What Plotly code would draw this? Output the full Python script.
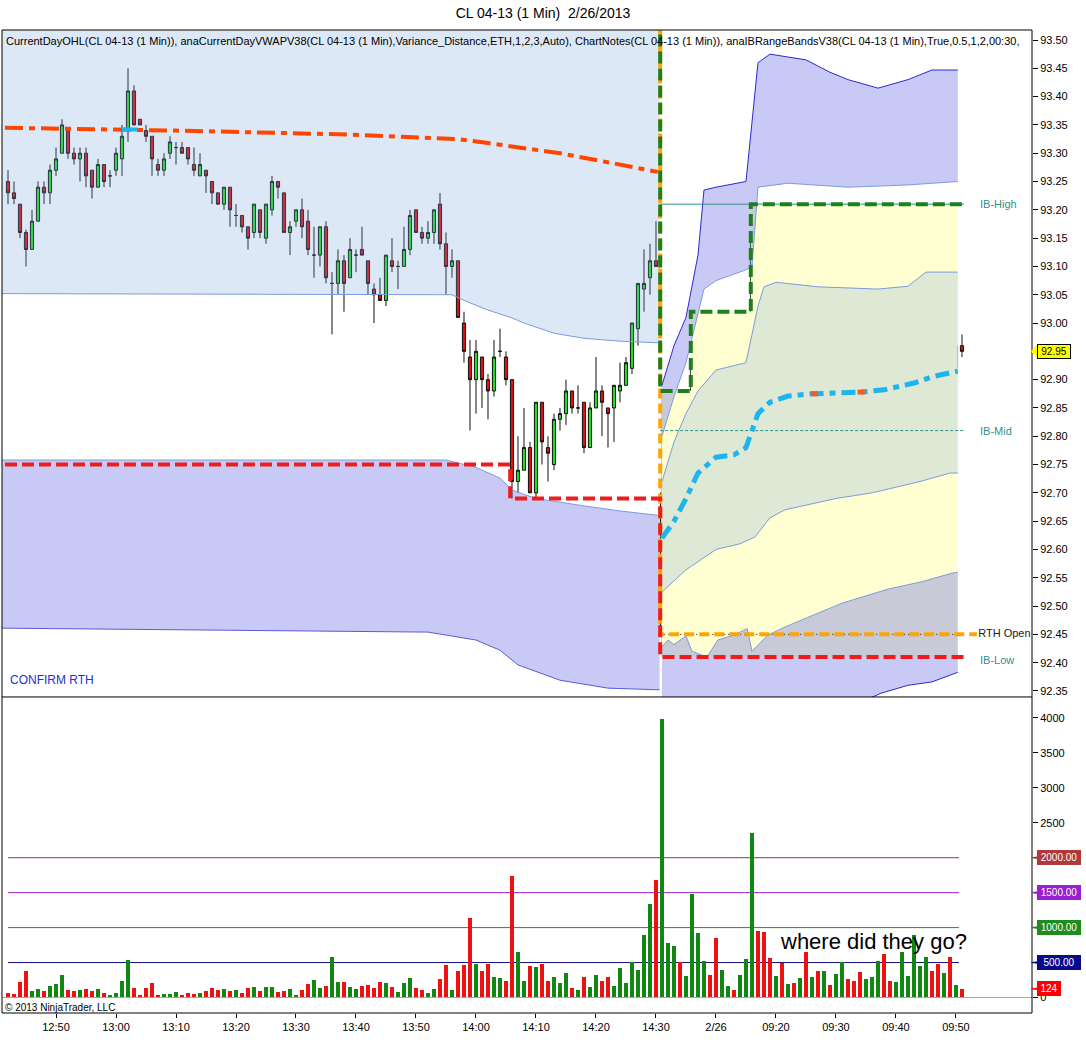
import plotly.graph_objects as go

# Bougies 1 min : 12:42 -> 14:30 (25/02) puis RTH 09:01 -> 09:51 (26/02)
opens = [
    93.25, 93.23, 93.21, 93.16, 93.13, 93.18, 93.24, 93.23, 93.27, 93.30,
    93.34, 93.30, 93.29, 93.30, 93.27, 93.24, 93.28, 93.26, 93.27, 93.29,
    93.34, 93.41, 93.36, 93.34, 93.33, 93.28, 93.27, 93.30, 93.31, 93.31,
    93.31, 93.28, 93.26, 93.27, 93.25, 93.23, 93.21, 93.24, 93.19, 93.19,
    93.17, 93.16, 93.20, 93.15, 93.20, 93.25, 93.23, 93.16, 93.18, 93.20,
    93.18, 93.12, 93.12, 93.17, 93.07, 93.07, 93.11, 93.08, 93.12, 93.13,
    93.11, 93.06, 93.05, 93.04, 93.11, 93.10, 93.10, 93.13, 93.20, 93.16,
    93.15, 93.16, 93.21, 93.14, 93.10, 93.11, 93.00, 92.94, 92.90, 92.94,
    92.90, 92.88, 92.95, 92.94, 92.90, 92.72, 92.74, 92.78, 92.70, 92.86,
    92.78, 92.75, 92.83, 92.84, 92.88, 92.85, 92.86, 92.78, 92.85, 92.88,
    92.85, 92.85, 92.88, 92.89, 92.92, 92.99, 93.06, 93.08, 93.11,
    92.45, 92.70, 92.72, 92.78, 92.74, 92.77, 92.92, 92.97, 93.01, 92.96,
    92.86, 92.91, 92.91, 92.88, 92.88, 92.92, 93.16, 93.11, 93.07, 93.03,
    93.04, 92.97, 93.00, 92.98, 92.99, 92.88, 92.88, 92.85, 92.90, 92.88,
    92.95, 92.97, 92.94, 92.92, 92.86, 92.87, 92.93, 93.02, 92.99, 92.94,
    92.96, 93.01, 93.01, 93.11, 93.13, 93.15, 93.07, 93.01, 93.01, 92.92,
    92.96,
]
highs = [
    93.27, 93.25, 93.21, 93.165, 93.20, 93.25, 93.25, 93.28, 93.31, 93.36,
    93.34, 93.31, 93.31, 93.31, 93.27, 93.29, 93.28, 93.27, 93.31, 93.35,
    93.45, 93.42, 93.36, 93.35, 93.33, 93.29, 93.30, 93.33, 93.32, 93.32,
    93.31, 93.31, 93.30, 93.27, 93.25, 93.23, 93.24, 93.24, 93.21, 93.19,
    93.17, 93.21, 93.20, 93.21, 93.26, 93.25, 93.23, 93.18, 93.20, 93.22,
    93.20, 93.17, 93.17, 93.18, 93.09, 93.13, 93.12, 93.15, 93.13, 93.17,
    93.11, 93.07, 93.08, 93.12, 93.15, 93.11, 93.17, 93.20, 93.20, 93.17,
    93.18, 93.20, 93.23, 93.16, 93.13, 93.11, 93.02, 92.97, 92.97, 92.94,
    92.91, 92.97, 92.99, 92.95, 92.90, 92.80, 92.85, 92.79, 92.86, 92.86,
    92.80, 92.84, 92.85, 92.90, 92.88, 92.89, 92.86, 92.86, 92.94, 92.89,
    92.85, 92.89, 92.93, 92.94, 93.00, 93.07, 93.13, 93.14, 93.18,
    92.88, 92.73, 92.82, 92.78, 92.79, 92.93, 93.01, 93.02, 93.01, 92.96,
    92.95, 92.93, 92.91, 92.91, 92.97, 93.21, 93.17, 93.13, 93.08, 93.05,
    93.08, 93.02, 93.02, 93.00, 92.99, 92.93, 92.88, 92.92, 92.92, 92.98,
    92.98, 92.98, 92.98, 92.92, 92.89, 92.93, 93.02, 93.04, 92.99, 92.97,
    93.06, 93.05, 93.12, 93.18, 93.20, 93.15, 93.09, 93.02, 93.02, 93.00,
    92.98,
]
lows = [
    93.21, 93.21, 93.15, 93.10, 93.13, 93.18, 93.21, 93.21, 93.26, 93.30,
    93.29, 93.28, 93.25, 93.24, 93.22, 93.24, 93.24, 93.24, 93.26, 93.26,
    93.32, 93.35, 93.35, 93.32, 93.26, 93.26, 93.26, 93.29, 93.28, 93.30,
    93.28, 93.26, 93.26, 93.23, 93.21, 93.21, 93.20, 93.17, 93.17, 93.16,
    93.13, 93.15, 93.15, 93.14, 93.19, 93.22, 93.16, 93.12, 93.17, 93.15,
    93.12, 93.08, 93.10, 93.07, 92.98, 93.05, 93.02, 93.08, 93.09, 93.12,
    93.05, 93.00, 93.04, 93.03, 93.09, 93.06, 93.10, 93.12, 93.16, 93.14,
    93.14, 93.14, 93.13, 93.05, 93.08, 93.01, 92.93, 92.81, 92.84, 92.85,
    92.83, 92.87, 92.94, 92.89, 92.69, 92.70, 92.74, 92.70, 92.69, 92.75,
    92.72, 92.74, 92.81, 92.82, 92.84, 92.84, 92.77, 92.78, 92.85, 92.80,
    92.78, 92.79, 92.86, 92.89, 92.91, 92.96, 93.02, 93.05, 93.10,
    92.41, 92.68, 92.68, 92.70, 92.74, 92.77, 92.90, 92.94, 92.96, 92.81,
    92.83, 92.88, 92.88, 92.85, 92.85, 92.91, 93.08, 92.95, 93.01, 93.00,
    92.97, 92.97, 92.97, 92.97, 92.88, 92.85, 92.82, 92.85, 92.86, 92.87,
    92.93, 92.92, 92.90, 92.85, 92.82, 92.86, 92.93, 92.95, 92.92, 92.93,
    92.92, 92.98, 93.01, 93.09, 93.13, 93.07, 93.01, 93.00, 92.93, 92.92,
    92.94,
]
closes = [
    93.23, 93.22, 93.16, 93.13, 93.18, 93.24, 93.23, 93.27, 93.29, 93.35,
    93.30, 93.29, 93.30, 93.26, 93.24, 93.28, 93.25, 93.26, 93.30, 93.33,
    93.41, 93.35, 93.35, 93.33, 93.29, 93.27, 93.29, 93.32, 93.31, 93.30,
    93.29, 93.27, 93.28, 93.26, 93.23, 93.21, 93.24, 93.20, 93.19, 93.17,
    93.15, 93.21, 93.16, 93.21, 93.25, 93.24, 93.16, 93.17, 93.20, 93.17,
    93.13, 93.12, 93.17, 93.08, 93.07, 93.11, 93.07, 93.13, 93.12, 93.12,
    93.07, 93.05, 93.04, 93.12, 93.10, 93.10, 93.13, 93.19, 93.16, 93.15,
    93.16, 93.20, 93.14, 93.10, 93.11, 93.01, 92.95, 92.90, 92.95, 92.90,
    92.88, 92.94, 92.95, 92.90, 92.72, 92.74, 92.78, 92.70, 92.86, 92.79,
    92.77, 92.83, 92.84, 92.88, 92.85, 92.85, 92.78, 92.85, 92.88, 92.86,
    92.84, 92.89, 92.89, 92.93, 93.00, 93.07, 93.07, 93.11, 93.10,
    92.70, 92.72, 92.81, 92.72, 92.77, 92.93, 92.97, 93.01, 92.96, 92.85,
    92.93, 92.93, 92.88, 92.88, 92.92, 93.16, 93.12, 93.07, 93.03, 93.05,
    92.98, 93.01, 92.97, 92.99, 92.88, 92.88, 92.85, 92.90, 92.88, 92.96,
    92.96, 92.94, 92.92, 92.87, 92.87, 92.93, 93.02, 92.99, 92.94, 92.97,
    93.02, 93.01, 93.12, 93.13, 93.15, 93.07, 93.02, 93.01, 92.93, 92.96,
    92.95,
]
volumes = [
    67, 57, 229, 386, 100, 129, 100, 171, 200, 329,
    114, 100, 114, 129, 100, 129, 71, 29, 71, 243,
    543, 143, 43, 143, 214, 29, 57, 57, 86, 29,
    71, 57, 71, 100, 143, 114, 129, 100, 114, 71,
    143, 157, 100, 157, 157, 86, 100, 129, 43, 114,
    200, 257, 143, 171, 586, 229, 229, 157, 129, 171,
    186, 143, 229, 214, 157, 86, 214, 286, 143, 114,
    71, 129, 271, 471, 114, 386, 471, 1143, 486, 386,
    486, 300, 286, 243, 1743, 657, 243, 457, 443, 476,
    231, 288, 202, 346, 130, 101, 288, 144, 317, 231,
    288, 159, 418, 202, 505, 389, 894, 1341, 1688,
    3990, 774, 736, 505, 303, 1486, 923, 519, 317, 851,
    389, 159, 101, 317, 548, 2350, 952, 938, 562, 303,
    490, 188, 202, 274, 649, 288, 375, 375, 173, 332,
    505, 260, 231, 361, 260, 288, 519, 620, 231, 216,
    649, 303, 894, 447, 577, 375, 476, 346, 577, 173,
    124,
]

tick_idx = [8, 18, 28, 38, 48, 58, 68, 78, 88, 98, 108, 118, 128, 138, 148, 158]
tick_text = ["12:50", "13:00", "13:10", "13:20", "13:30", "13:40", "13:50", "14:00",
             "14:10", "14:20", "14:30", "2/26", "09:20", "09:30", "09:40", "09:50"]
price_ticks = [92.35, 92.40, 92.45, 92.50, 92.55, 92.60, 92.65, 92.70, 92.75, 92.80,
               92.85, 92.90, 92.95, 93.00, 93.05, 93.10, 93.15, 93.20, 93.25, 93.30,
               93.35, 93.40, 93.45, 93.50]
vol_ticks = [0, 500, 1000, 1500, 2000, 2500, 3000, 3500, 4000]

# VWAP + bandes (séance 1)
vwap1_x = [-0.5, 20, 28, 57, 75, 80, 85, 92, 98, 104, 108.3]
vwap1_y = [93.345, 93.342, 93.34, 93.333, 93.325, 93.318, 93.31, 93.30, 93.288, 93.275, 93.267]
s1_dn1_x = [-1, 74, 76, 80, 84, 86, 91, 96, 102, 108.6]
s1_dn1_y = [93.052, 93.05, 93.04, 93.023, 93.009, 93.0, 92.982, 92.973, 92.968, 92.965]
s1_dn2_x = [-1, 73, 78, 82, 84, 88, 96, 102, 108.6]
s1_dn2_y = [92.758, 92.758, 92.745, 92.726, 92.705, 92.69, 92.677, 92.668, 92.66]
s1_dn3_x = [-1, 70, 78, 82, 85, 92, 100, 108.6]
s1_dn3_y = [92.461, 92.454, 92.44, 92.422, 92.396, 92.369, 92.355, 92.352]

# VWAP + bandes (séance 2)
vwap2_x = [109, 111, 113, 115, 118, 121, 123, 124, 125, 127, 130, 134, 142, 146, 151, 154, 158.3]
vwap2_y = [92.62, 92.65, 92.69, 92.735, 92.763, 92.767, 92.78, 92.81, 92.84, 92.86,
           92.871, 92.875, 92.878, 92.882, 92.894, 92.905, 92.915]
s2_up3_x = [109, 111, 113, 115, 116, 118, 123, 124, 125, 127, 133, 137, 140, 145, 150, 154, 158.3]
s2_up3_y = [92.89, 92.96, 93.01, 93.12, 93.235, 93.24, 93.25, 93.35, 93.46, 93.475, 93.465,
            93.443, 93.43, 93.415, 93.43, 93.447, 93.447]
s2_up2_x = [109, 111, 113, 115, 116, 118, 123, 124, 125, 130, 140, 150, 158.3]
s2_up2_y = [92.80, 92.87, 92.93, 93.02, 93.06, 93.075, 93.094, 93.10, 93.24, 93.247, 93.24, 93.244, 93.25]
s2_up1_x = [109, 111, 113, 115, 118, 123, 124, 125, 126, 128, 135, 145, 150, 153, 158.3]
s2_up1_y = [92.72, 92.79, 92.84, 92.88, 92.917, 92.93, 92.98, 93.03, 93.064, 93.072, 93.064,
            93.06, 93.065, 93.09, 93.09]
s2_dn1_x = [109, 113, 118, 122, 124.5, 127, 129.5, 133, 138, 144, 147, 152, 157, 158.3]
s2_dn1_y = [92.525, 92.564, 92.60, 92.61, 92.622, 92.656, 92.67, 92.678, 92.69, 92.70,
            92.707, 92.72, 92.735, 92.735]
s2_dn2_x = [109, 110, 111, 113, 114, 116.5, 118.3, 121, 123.2, 124, 126.7, 129.5, 133.3,
            139, 146.7, 152.3, 157.3, 158.3]
s2_dn2_y = [92.428, 92.44, 92.432, 92.447, 92.42, 92.41, 92.44, 92.449, 92.46, 92.42,
            92.449, 92.463, 92.48, 92.505, 92.53, 92.543, 92.558, 92.56]
s2_dn3_x = [109, 140, 145.5, 150, 154, 158.3]
s2_dn3_y = [92.30, 92.32, 92.346, 92.36, 92.366, 92.383]

# CurrentDayOHL (plus haut / plus bas / ouverture RTH)
low_x = [-0.5, 83.7, 108.7, 159.3]
low_y = [92.75, 92.69, 92.41, 92.41]
high_x = [108.7, 108.7, 113.8, 123.8, 159.3]
high_y = [93.60, 92.88, 93.02, 93.21, 93.21]
open_x = [108.7, 108.7, 161.5]
open_y = [93.60, 92.45, 92.45]

ib_high, ib_mid, ib_low = 93.21, 92.81, 92.41
vol_levels = [2000, 1500, 1000, 500]
vol_level_colors = ["#A0304A", "#A020C8", "#2A8A2A", "#10107A"]
vol_label_colors = ["#B03A3A", "#9A1FD0", "#1E8C1E", "#0A0A8C"]

FONT = "Liberation Sans, Arial, sans-serif"
LIGHTBLUE = "rgba(119,163,223,0.25)"
LAVENDER = "rgba(98,104,226,0.35)"
BANDLINE = "#7C9CDC"

bar_idx = list(range(len(closes)))
vol_colors = ["#118811" if c >= o else "#EE1111" for o, c in zip(opens, closes)]

fig = go.Figure()


def line(x, y, color, width=1, dash=None, shape="linear", fill=None, fillcolor=None):
    fig.add_trace(go.Scatter(
        x=x, y=y, mode="lines", fill=fill, fillcolor=fillcolor,
        line=dict(color=color, width=width, dash=dash, shape=shape),
        hoverinfo="skip", showlegend=False, xaxis="x", yaxis="y",
    ))


# zone jaune (range du jour, séance 2)
line([108.9, 158.3], [ib_low, ib_low], "rgba(0,0,0,0)", width=0)
line([108.9] + high_x[2:4] + [158.3], [92.88, 93.02, 93.21, 93.21], "rgba(0,0,0,0)",
     width=0, shape="hv", fill="tonexty", fillcolor="#FFFFD2")

# séance 1 : bande +/-1 (bleu clair) et -2/-3 (lavande)
line(s1_dn1_x, s1_dn1_y, BANDLINE)
line([-1, 108.6], [93.6, 93.6], "rgba(0,0,0,0)", width=0, fill="tonexty", fillcolor=LIGHTBLUE)
line(s1_dn3_x, s1_dn3_y, "#5A5AD8")
line(s1_dn2_x, s1_dn2_y, BANDLINE, fill="tonexty", fillcolor=LAVENDER)

# séance 2
line(s2_dn1_x, s2_dn1_y, BANDLINE)
line(s2_up1_x, s2_up1_y, BANDLINE, fill="tonexty", fillcolor=LIGHTBLUE)
line(s2_up2_x, s2_up2_y, BANDLINE)
line(s2_up3_x, s2_up3_y, "#2A2ACF", fill="tonexty", fillcolor=LAVENDER)
line(s2_dn3_x, s2_dn3_y, "#2A2ACF")
line(s2_dn2_x, s2_dn2_y, BANDLINE, fill="tonexty", fillcolor=LAVENDER)

# lignes IB
line([108.7, 159.3], [ib_high, ib_high], "#2F8F8F")
line([108.7, 159.3], [ib_mid, ib_mid], "#2F8F8F", dash="3px,2px")
line([108.7, 159.3], [92.45, 92.45], "#222222", dash="1px,3px")

# bougies
fig.add_trace(go.Candlestick(
    x=bar_idx, open=opens, high=highs, low=lows, close=closes,
    increasing=dict(fillcolor="#22DD22", line=dict(color="#111111", width=1)),
    decreasing=dict(fillcolor="#DD1111", line=dict(color="#111111", width=1)),
    whiskerwidth=0, hoverinfo="skip", showlegend=False, xaxis="x", yaxis="y",
))

# OHL du jour
line(open_x, open_y, "#FFA500", width=4, dash="10px,5px")
line(low_x, low_y, "#EE1C1C", width=4, dash="12px,5px", shape="hv")
line(high_x, high_y, "#1F7F1F", width=4, dash="12px,5px", shape="hv")

# VWAP
line(vwap1_x, vwap1_y, "#FF4500", width=4, dash="18px,6px,6px,6px")
line([19, 21.6], [93.342, 93.342], "#1EB4F0", width=4)
line(vwap2_x, vwap2_y, "#1EB4F0", width=5, dash="14px,6px,6px,6px")
line([133.8, 135.0], [92.875, 92.875], "#FF5A1E", width=5)
line([141.6, 142.8], [92.878, 92.878], "#FF5A1E", width=5)

# texte "RTH Open" coupé par l'axe
fig.add_trace(go.Scatter(
    x=[161.7], y=[92.45], mode="text", text=["RTH Open"], textposition="middle right",
    textfont=dict(family=FONT, size=11, color="#202020"), cliponaxis=True,
    hoverinfo="skip", showlegend=False, xaxis="x", yaxis="y",
))

# volume
fig.add_trace(go.Bar(
    x=bar_idx, y=volumes, marker=dict(color=vol_colors, line=dict(width=0)),
    width=0.55, hoverinfo="skip", showlegend=False, xaxis="x", yaxis="y2",
))

shapes = []
for lvl, col in zip(vol_levels, vol_level_colors):
    shapes.append(dict(type="line", xref="x", yref="y2", x0=0, x1=158.5, y0=lvl, y1=lvl,
                       line=dict(color=col, width=1), layer="below"))
shapes.append(dict(type="line", xref="paper", yref="y2", x0=0, x1=1, y0=0, y1=0,
                   line=dict(color="#A8A8A8", width=1)))
# cadre
shapes.append(dict(type="rect", xref="paper", yref="paper", x0=0, x1=1, y0=0, y1=1,
                   line=dict(color="black", width=1)))
shapes.append(dict(type="line", xref="paper", yref="paper", x0=0, x1=1, y0=0.3215, y1=0.3215,
                   line=dict(color="black", width=1)))

annotations = []


def marker(y, yref, text, bg, fg, width, size=10):
    h = 7.5 * 1.43 if yref == "y2" else 0.0125
    shapes.append(dict(type="path", xref="paper", yref=yref, fillcolor=bg,
                       line=dict(color=bg, width=1),
                       path=f"M 0.9995,{y} L 1.0055,{y + h} L 1.0055,{y - h} Z"))
    annotations.append(dict(xref="paper", yref=yref, x=1.0050, y=y, xanchor="left",
                            yanchor="middle", text=text, showarrow=False, bgcolor=bg,
                            bordercolor=bg if fg == "white" else "black", borderwidth=1,
                            borderpad=1, width=width, align="center",
                            font=dict(family=FONT, size=size, color=fg)))


for lvl, col in zip(vol_levels, vol_label_colors):
    marker(lvl, "y2", f"{lvl:.2f}", col, "white", 40)
marker(volumes[-1], "y2", str(volumes[-1]), "#FF0000", "white", 20)
marker(closes[-1], "y", f"{closes[-1]:.2f}", "#FFFF00", "black", 30)

# les étiquettes couvertes par les marqueurs ne sont pas écrites
price_text = ["" if v == closes[-1] else f"{v:.2f}" for v in price_ticks]
vol_text = ["" if v in vol_levels else str(v) for v in vol_ticks]

annotations += [
    dict(xref="paper", yref="paper", x=0, y=1, xanchor="left", yanchor="top", xshift=2, yshift=-3,
         showarrow=False, font=dict(family=FONT, size=11, color="black"),
         text="CurrentDayOHL(CL 04-13 (1 Min)), anaCurrentDayVWAPV38(CL 04-13 (1 Min),"
              "Variance_Distance,ETH,1,2,3,Auto), ChartNotes(CL 04-13 (1 Min)), "
              "anaIBRangeBandsV38(CL 04-13 (1 Min),True,0.5,1,2,00:30,"),
    dict(xref="paper", yref="y", x=0, y=92.369, xanchor="left", xshift=6, showarrow=False,
         text="CONFIRM RTH", font=dict(family=FONT, size=12, color="#2233CC")),
    dict(xref="x", yref="y", x=161.7, y=ib_high, xanchor="left", showarrow=False,
         text="IB-High", font=dict(family=FONT, size=11, color="#2F8F8F")),
    dict(xref="x", yref="y", x=161.7, y=ib_mid, xanchor="left", showarrow=False,
         text="IB-Mid", font=dict(family=FONT, size=11, color="#2F8F8F")),
    dict(xref="x", yref="y", x=161.7, y=92.405, xanchor="left", showarrow=False,
         text="IB-Low", font=dict(family=FONT, size=11, color="#2F8F8F")),
    dict(xref="x", yref="y2", x=128.3, y=800, xanchor="left", showarrow=False,
         text="where did they go?", font=dict(family=FONT, size=22, color="black")),
    dict(xref="paper", yref="y2", x=0, y=-143, xanchor="left", xshift=1, showarrow=False,
         text="© 2013 NinjaTrader, LLC", font=dict(family=FONT, size=10, color="black")),
]

fig.update_layout(
    width=1086, height=1061,
    margin=dict(l=2, r=54, t=30, b=48),
    paper_bgcolor="white", plot_bgcolor="white",
    font=dict(family=FONT, size=11, color="black"),
    title=dict(text="CL 04-13 (1 Min)\u00a0 2/26/2013", x=0.5, xref="container", xanchor="center",
               y=1 - 13 / 1061, yref="container", yanchor="middle",
               font=dict(family=FONT, size=14, color="black")),
    showlegend=False, boxgap=0.25, bargap=0,
    xaxis=dict(domain=[0, 1], range=[-1, 170.67], anchor="y2", tickvals=tick_idx, ticktext=tick_text,
               ticks="outside", ticklen=4, tickcolor="black", showgrid=False, zeroline=False,
               showline=False, rangeslider=dict(visible=False), tickfont=dict(size=11)),
    yaxis=dict(domain=[0.3215, 1], range=[92.3394, 93.5177], side="right", anchor="x",
               tickvals=price_ticks, ticktext=price_text,
               ticks="outside", ticklen=5, tickcolor="black", showgrid=False, zeroline=False,
               showline=False, tickfont=dict(size=11)),
    yaxis2=dict(domain=[0, 0.3215], range=[-222, 4300], side="right", anchor="x",
                tickvals=vol_ticks, ticktext=vol_text, ticks="outside", ticklen=5, tickcolor="black",
                showgrid=False, zeroline=False, showline=False, tickfont=dict(size=11)),
    shapes=shapes, annotations=annotations,
)

# la page par défaut a une marge de 8px autour du graphique
fig.write_html("out.html", config={"displayModeBar": False},
               post_script="document.body.style.margin = '0px';")
